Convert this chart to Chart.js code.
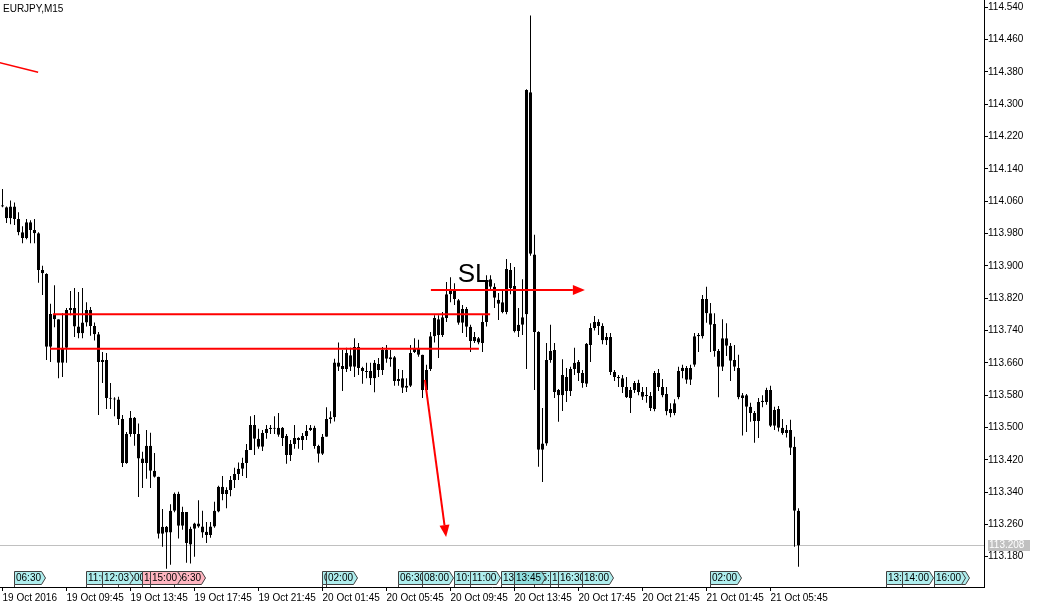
<!DOCTYPE html>
<html lang="en">
<head>
    <meta charset="UTF-8">
    <title>EURJPY,M15</title>
    <script src="https://cdn.jsdelivr.net/npm/chart.js"></script>
    <style>
        html, body { margin: 0; padding: 0; background: #fff; }
        #wrap { width: 1039px; height: 609px; }
    </style>
</head>
<body>
    <div id="wrap"><canvas id="chart" width="1039" height="609"></canvas></div>

    <script>
        // Candles (M15 bars, index 0 = 19 Oct 05:45)
        const opens = [
            114.050, 114.045, 114.018, 114.047, 114.016, 113.983, 113.969, 114.008, 113.989, 113.981,
            113.890, 113.880, 113.700, 113.781, 113.768, 113.660, 113.697, 113.791, 113.796, 113.750,
            113.733, 113.760, 113.791, 113.751, 113.731, 113.662, 113.667, 113.573, 113.571, 113.569,
            113.521, 113.412, 113.484, 113.524, 113.484, 113.423, 113.412, 113.455, 113.393, 113.378,
            113.237, 113.240, 113.240, 113.294, 113.336, 113.257, 113.291, 113.210, 113.249, 113.262,
            113.255, 113.242, 113.234, 113.255, 113.292, 113.353, 113.335, 113.345, 113.370, 113.385,
            113.398, 113.412, 113.444, 113.506, 113.472, 113.452, 113.486, 113.496, 113.497, 113.482,
            113.499, 113.479, 113.432, 113.459, 113.474, 113.469, 113.479, 113.494, 113.499, 113.454,
            113.435, 113.477, 113.521, 113.525, 113.661, 113.652, 113.645, 113.679, 113.650, 113.699,
            113.647, 113.640, 113.640, 113.622, 113.657, 113.642, 113.692, 113.674, 113.674, 113.620,
            113.622, 113.603, 113.603, 113.687, 113.697, 113.680, 113.593, 113.645, 113.726, 113.729,
            113.729, 113.771, 113.830, 113.838, 113.815, 113.759, 113.793, 113.749, 113.724, 113.721,
            113.709, 113.761, 113.867, 113.848, 113.806, 113.810, 113.786, 113.890, 113.850, 113.739,
            113.754, 113.780, 114.330, 113.928, 113.736, 113.445, 113.460, 113.667, 113.692, 113.593,
            113.580, 113.625, 113.590, 113.645, 113.662, 113.635, 113.608, 113.704, 113.746, 113.761,
            113.751, 113.716, 113.724, 113.637, 113.625, 113.622, 113.600, 113.573, 113.593, 113.610,
            113.588, 113.580, 113.578, 113.546, 113.635, 113.600, 113.583, 113.546, 113.536, 113.575,
            113.640, 113.647, 113.618, 113.655, 113.726, 113.726, 113.818, 113.783, 113.756, 113.689,
            113.650, 113.721, 113.702, 113.667, 113.647, 113.573, 113.580, 113.551, 113.536, 113.516,
            113.563, 113.563, 113.593, 113.504, 113.546, 113.499, 113.486, 113.494, 113.452, 113.294
        ];
        const highs = [
            114.090, 114.047, 114.062, 114.057, 114.033, 113.998, 114.016, 114.013, 114.016, 113.983,
            113.900, 113.882, 113.806, 113.852, 113.768, 113.783, 113.796, 113.838, 113.845, 113.835,
            113.845, 113.810, 113.798, 113.760, 113.736, 113.687, 113.684, 113.610, 113.575, 113.576,
            113.531, 113.489, 113.541, 113.526, 113.510, 113.440, 113.494, 113.487, 113.437, 113.378,
            113.298, 113.256, 113.310, 113.339, 113.341, 113.304, 113.291, 113.254, 113.264, 113.320,
            113.294, 113.266, 113.266, 113.316, 113.356, 113.380, 113.352, 113.380, 113.400, 113.413,
            113.425, 113.459, 113.528, 113.531, 113.497, 113.494, 113.506, 113.506, 113.528, 113.536,
            113.501, 113.484, 113.469, 113.506, 113.476, 113.486, 113.506, 113.506, 113.504, 113.457,
            113.484, 113.550, 113.540, 113.670, 113.710, 113.692, 113.697, 113.697, 113.721, 113.709,
            113.650, 113.660, 113.660, 113.667, 113.672, 113.699, 113.704, 113.692, 113.677, 113.645,
            113.642, 113.622, 113.704, 113.721, 113.717, 113.680, 113.655, 113.736, 113.778, 113.778,
            113.786, 113.860, 113.872, 113.857, 113.818, 113.803, 113.798, 113.754, 113.736, 113.724,
            113.778, 113.877, 113.877, 113.857, 113.833, 113.840, 113.917, 113.907, 113.897, 113.796,
            113.867, 114.337, 114.520, 113.977, 113.738, 113.548, 113.709, 113.754, 113.709, 113.595,
            113.669, 113.647, 113.650, 113.697, 113.667, 113.642, 113.709, 113.758, 113.776, 113.768,
            113.758, 113.734, 113.734, 113.642, 113.630, 113.630, 113.625, 113.600, 113.615, 113.618,
            113.600, 113.600, 113.588, 113.640, 113.645, 113.620, 113.600, 113.560, 113.570, 113.650,
            113.655, 113.652, 113.655, 113.734, 113.734, 113.828, 113.848, 113.808, 113.783, 113.694,
            113.768, 113.758, 113.709, 113.704, 113.680, 113.585, 113.583, 113.561, 113.541, 113.573,
            113.580, 113.598, 113.603, 113.551, 113.553, 113.521, 113.506, 113.519, 113.477, 113.300
        ];
        const lows = [
            114.045, 114.006, 114.003, 114.001, 113.976, 113.956, 113.966, 113.956, 113.956, 113.858,
            113.828, 113.667, 113.662, 113.748, 113.622, 113.625, 113.660, 113.778, 113.724, 113.721,
            113.721, 113.750, 113.727, 113.715, 113.531, 113.610, 113.546, 113.546, 113.528, 113.506,
            113.402, 113.410, 113.477, 113.455, 113.328, 113.350, 113.373, 113.350, 113.376, 113.225,
            113.205, 113.150, 113.160, 113.290, 113.225, 113.247, 113.165, 113.163, 113.180, 113.252,
            113.227, 113.214, 113.227, 113.252, 113.290, 113.320, 113.300, 113.330, 113.350, 113.370,
            113.380, 113.375, 113.444, 113.432, 113.447, 113.442, 113.472, 113.484, 113.484, 113.477,
            113.454, 113.410, 113.417, 113.447, 113.447, 113.444, 113.469, 113.491, 113.447, 113.413,
            113.432, 113.477, 113.510, 113.515, 113.640, 113.590, 113.637, 113.640, 113.625, 113.630,
            113.608, 113.622, 113.605, 113.587, 113.625, 113.630, 113.660, 113.650, 113.603, 113.603,
            113.585, 113.588, 113.600, 113.684, 113.675, 113.573, 113.585, 113.640, 113.710, 113.672,
            113.724, 113.761, 113.810, 113.803, 113.754, 113.734, 113.724, 113.687, 113.709, 113.706,
            113.687, 113.750, 113.840, 113.796, 113.766, 113.783, 113.780, 113.830, 113.735, 113.724,
            113.729, 113.645, 113.925, 113.593, 113.403, 113.365, 113.455, 113.660, 113.573, 113.514,
            113.541, 113.563, 113.578, 113.630, 113.615, 113.598, 113.600, 113.662, 113.740, 113.729,
            113.706, 113.704, 113.630, 113.615, 113.600, 113.585, 113.573, 113.536, 113.585, 113.580,
            113.568, 113.561, 113.541, 113.540, 113.590, 113.575, 113.530, 113.525, 113.530, 113.570,
            113.622, 113.608, 113.605, 113.650, 113.687, 113.720, 113.759, 113.687, 113.675, 113.575,
            113.640, 113.677, 113.615, 113.640, 113.570, 113.480, 113.489, 113.514, 113.462, 113.474,
            113.550, 113.556, 113.501, 113.494, 113.490, 113.482, 113.475, 113.432, 113.205, 113.155
        ];
        const closes = [
            114.047, 114.018, 114.047, 114.016, 113.983, 113.969, 114.008, 113.989, 113.981, 113.890,
            113.882, 113.700, 113.781, 113.768, 113.660, 113.697, 113.791, 113.796, 113.750, 113.733,
            113.760, 113.791, 113.751, 113.731, 113.662, 113.667, 113.573, 113.571, 113.569, 113.521,
            113.412, 113.484, 113.524, 113.484, 113.423, 113.412, 113.455, 113.393, 113.378, 113.237,
            113.254, 113.254, 113.294, 113.336, 113.257, 113.291, 113.214, 113.249, 113.262, 113.255,
            113.240, 113.234, 113.255, 113.294, 113.353, 113.335, 113.345, 113.370, 113.385, 113.398,
            113.412, 113.444, 113.506, 113.472, 113.452, 113.486, 113.496, 113.499, 113.499, 113.499,
            113.474, 113.432, 113.459, 113.474, 113.469, 113.479, 113.491, 113.499, 113.454, 113.435,
            113.477, 113.521, 113.525, 113.661, 113.650, 113.645, 113.684, 113.650, 113.699, 113.647,
            113.640, 113.637, 113.622, 113.660, 113.642, 113.692, 113.670, 113.669, 113.615, 113.615,
            113.598, 113.598, 113.684, 113.697, 113.680, 113.593, 113.642, 113.726, 113.771, 113.768,
            113.773, 113.830, 113.843, 113.818, 113.759, 113.793, 113.749, 113.714, 113.714, 113.710,
            113.761, 113.865, 113.848, 113.821, 113.816, 113.786, 113.892, 113.845, 113.738, 113.754,
            113.773, 114.335, 113.930, 113.736, 113.445, 113.460, 113.667, 113.689, 113.588, 113.580,
            113.630, 113.590, 113.645, 113.660, 113.635, 113.610, 113.707, 113.746, 113.761, 113.751,
            113.716, 113.724, 113.637, 113.625, 113.622, 113.600, 113.575, 113.593, 113.610, 113.588,
            113.576, 113.578, 113.548, 113.635, 113.600, 113.580, 113.540, 113.536, 113.560, 113.640,
            113.648, 113.618, 113.647, 113.726, 113.729, 113.818, 113.783, 113.754, 113.689, 113.650,
            113.721, 113.702, 113.665, 113.650, 113.575, 113.580, 113.551, 113.536, 113.516, 113.563,
            113.566, 113.593, 113.504, 113.543, 113.499, 113.486, 113.494, 113.450, 113.294, 113.208
        ];

        const symbol = 'EURJPY,M15';
        const bid = 113.208;

        // Axis ticks
        const timeTickIdx = [0, 16, 32, 48, 64, 80, 96, 112, 128, 144, 160, 176, 192];
        const timeTickLabels = [
            '19 Oct 2016', '19 Oct 09:45', '19 Oct 13:45', '19 Oct 17:45', '19 Oct 21:45',
            '20 Oct 01:45', '20 Oct 05:45', '20 Oct 09:45', '20 Oct 13:45', '20 Oct 17:45',
            '20 Oct 21:45', '21 Oct 01:45', '21 Oct 05:45'
        ];
        const priceTicks = [
            113.180, 113.260, 113.340, 113.420, 113.500, 113.580, 113.660, 113.740, 113.820,
            113.900, 113.980, 114.060, 114.140, 114.220, 114.300, 114.380, 114.460, 114.540
        ];

        // Drawn objects, in bar index / price
        const lines = [
            { x1: -0.7, y1: 114.403, x2: 8.9, y2: 114.379, w: 1.5 },
            { x1: 12.6, y1: 113.780, x2: 121.9, y2: 113.780, w: 2 },
            { x1: 11.9, y1: 113.695, x2: 119.1, y2: 113.695, w: 2 }
        ];
        const arrows = [
            { x1: 107.1, y1: 113.840, x2: 145.6, y2: 113.840 },
            { x1: 105.6, y1: 113.618, x2: 110.9, y2: 113.229 }
        ];
        const labelSL = { x: 113.8, y: 113.860, text: 'SL' };

        // Calendar events along the bottom (drawn in this order)
        const events = [
            { i: 3, t: '06:30', c: 'c' }, { i: 21, t: '11:00', c: 'c' }, { i: 29, t: '13:00', c: 'c' },
            { i: 25, t: '12:03', c: 'c' }, { i: 35, t: '14:30', c: 'p' }, { i: 43, t: '16:30', c: 'p' },
            { i: 37, t: '15:00', c: 'p' }, { i: 80, t: '01:45', c: 'c' }, { i: 81, t: '02:00', c: 'c' },
            { i: 99, t: '06:30', c: 'c' }, { i: 105, t: '08:00', c: 'c' }, { i: 113, t: '10:00', c: 'c' },
            { i: 117, t: '11:00', c: 'c' }, { i: 125, t: '13:00', c: 'c' }, { i: 133, t: '15:00', c: 'c' },
            { i: 128, t: '13:45', c: 'd' }, { i: 137, t: '16:00', c: 'c' }, { i: 139, t: '16:30', c: 'c' },
            { i: 145, t: '18:00', c: 'c' }, { i: 177, t: '02:00', c: 'c' }, { i: 221, t: '13:00', c: 'c' },
            { i: 225, t: '14:00', c: 'c' }, { i: 233, t: '16:00', c: 'c', dbl: true }
        ];
        const eventFill = { c: '#afeeee', p: '#ffb6c1', d: '#8fdede' };

        const FONT = 'Liberation Sans, Arial, sans-serif';
        const bull = '#3cb371';
        const bear = '#ff0000';

        // y range so that the price ticks fall where the terminal puts them
        const pxPerUnit = 404.0;
        const yMax = 114.540 + 7.3 / pxPerUnit;
        const yMin = yMax - 587 / pxPerUnit;

        function drawArrow(ctx, x1, y1, x2, y2) {
            const a = Math.atan2(y2 - y1, x2 - x1);
            const len = 12, half = 5;
            const bx = x2 - len * Math.cos(a), by = y2 - len * Math.sin(a);
            ctx.beginPath();
            ctx.moveTo(x1, y1);
            ctx.lineTo(bx, by);
            ctx.stroke();
            ctx.beginPath();
            ctx.moveTo(x2, y2);
            ctx.lineTo(bx + half * Math.sin(a), by - half * Math.cos(a));
            ctx.lineTo(bx - half * Math.sin(a), by + half * Math.cos(a));
            ctx.closePath();
            ctx.fill();
        }

        const overlay = {
            id: 'overlay',
            beforeDatasetsDraw(chart) {
                const { ctx, chartArea: a, scales: { y } } = chart;
                const yb = Math.round(y.getPixelForValue(bid)) + 0.5;
                ctx.save();
                ctx.strokeStyle = '#c0c0c0';
                ctx.lineWidth = 1;
                ctx.beginPath();
                ctx.moveTo(a.left, yb);
                ctx.lineTo(a.right, yb);
                ctx.stroke();
                ctx.restore();
            },
            afterDatasetsDraw(chart) {
                const { ctx, chartArea: a, scales: { x, y } } = chart;
                ctx.save();
                ctx.beginPath();
                ctx.rect(a.left, a.top, a.right - a.left, a.bottom - a.top);
                ctx.clip();

                // red trend / level lines
                ctx.strokeStyle = '#ff0000';
                ctx.fillStyle = '#ff0000';
                lines.forEach(l => {
                    ctx.lineWidth = l.w;
                    ctx.beginPath();
                    ctx.moveTo(x.getPixelForValue(l.x1), y.getPixelForValue(l.y1));
                    ctx.lineTo(x.getPixelForValue(l.x2), y.getPixelForValue(l.y2));
                    ctx.stroke();
                });
                ctx.lineWidth = 2;
                arrows.forEach(r => {
                    drawArrow(ctx, x.getPixelForValue(r.x1), y.getPixelForValue(r.y1),
                        x.getPixelForValue(r.x2), y.getPixelForValue(r.y2));
                });

                // SL text
                ctx.fillStyle = '#000';
                ctx.font = '26px ' + FONT;
                ctx.textBaseline = 'alphabetic';
                ctx.textAlign = 'left';
                ctx.fillText(labelSL.text, x.getPixelForValue(labelSL.x), y.getPixelForValue(labelSL.y));

                // event tags
                ctx.font = '10px ' + FONT;
                ctx.textBaseline = 'middle';
                const top = 571.5, bot = 584.5, base = a.bottom;
                events.forEach(ev => {
                    const x0 = Math.round(x.getPixelForValue(ev.i)) - 0.5;
                    const w = Math.round(ctx.measureText(ev.t).width) + 2;
                    const shape = (off) => {
                        ctx.beginPath();
                        ctx.moveTo(x0, top);
                        ctx.lineTo(x0 + w + off, top);
                        ctx.lineTo(x0 + w + off + 4, (top + bot) / 2);
                        ctx.lineTo(x0 + w + off, bot);
                        ctx.lineTo(x0, bot);
                        ctx.closePath();
                    };
                    ctx.fillStyle = eventFill[ev.c];
                    ctx.strokeStyle = '#404040';
                    ctx.lineWidth = 1;
                    if (ev.dbl) {
                        shape(4);
                        ctx.fill();
                        ctx.stroke();
                    }
                    shape(0);
                    ctx.fill();
                    ctx.stroke();
                    ctx.beginPath();
                    ctx.moveTo(x0, bot);
                    ctx.lineTo(x0, base);
                    ctx.stroke();
                    ctx.fillStyle = '#000';
                    ctx.fillText(ev.t, x0 + 1.5, (top + bot) / 2 + 0.5);
                });
                ctx.restore();
            },
            afterDraw(chart) {
                const { ctx, chartArea: a, scales: { y } } = chart;
                ctx.save();
                // symbol caption
                ctx.fillStyle = '#000';
                ctx.font = '10px ' + FONT;
                ctx.textBaseline = 'middle';
                ctx.textAlign = 'left';
                ctx.fillText(symbol, 3, 9);
                // bid price box on the right scale
                const yb = Math.round(y.getPixelForValue(bid));
                ctx.fillStyle = '#c0c0c0';
                ctx.fillRect(a.right + 4, yb - 5, 42, 11);
                ctx.fillStyle = '#fff';
                ctx.fillText(bid.toFixed(3), a.right + 5, yb + 0.5);
                ctx.restore();
            }
        };

        const wickData = lows.map((l, i) => ({ x: i, y: [l, highs[i]] }));
        const bodyData = opens.map((o, i) => ({ x: i, y: [o, closes[i]] }));
        const bodyColors = opens.map((o, i) => closes[i] >= o ? bull : bear);

        new Chart(document.getElementById('chart'), {
            type: 'bar',
            data: {
                datasets: [
                    {
                        label: 'wick',
                        data: wickData,
                        backgroundColor: '#000',
                        borderWidth: 0,
                        barThickness: 1,
                        minBarLength: 1,
                        grouped: false,
                        inflateAmount: 0
                    },
                    {
                        label: symbol,
                        data: bodyData,
                        backgroundColor: bodyColors,
                        borderColor: '#000',
                        borderWidth: 1,
                        borderSkipped: false,
                        barThickness: 3,
                        minBarLength: 1,
                        grouped: false,
                        inflateAmount: 0
                    }
                ]
            },
            options: {
                responsive: false,
                devicePixelRatio: 1,
                animation: false,
                layout: { padding: 0, autoPadding: false },
                plugins: {
                    legend: { display: false },
                    tooltip: { enabled: false },
                    title: { display: false }
                },
                scales: {
                    x: {
                        type: 'linear',
                        position: 'bottom',
                        min: -0.625,
                        max: 245.375,
                        offset: false,
                        grid: { display: true, drawOnChartArea: false, drawTicks: true, tickLength: 4, color: '#000', offset: false },
                        border: { display: true, color: '#000' },
                        afterBuildTicks: s => { s.ticks = timeTickIdx.map(v => ({ value: v })); },
                        afterFit: s => { s.height = 22; s.paddingLeft = 0; s.paddingRight = 0; },
                        ticks: {
                            autoSkip: false,
                            maxRotation: 0,
                            align: 'start',
                            padding: 1,
                            color: '#000',
                            font: { family: FONT, size: 10 },
                            callback: v => timeTickLabels[timeTickIdx.indexOf(v)]
                        }
                    },
                    y: {
                        position: 'right',
                        min: yMin,
                        max: yMax,
                        grid: { display: true, drawOnChartArea: false, drawTicks: true, tickLength: 4, color: '#000' },
                        border: { display: true, color: '#000' },
                        afterBuildTicks: s => { s.ticks = priceTicks.map(v => ({ value: v })); },
                        afterFit: s => { s.width = 55; s.paddingTop = 0; s.paddingBottom = 0; },
                        ticks: {
                            padding: 0,
                            color: '#000',
                            font: { family: FONT, size: 10 },
                            callback: v => v.toFixed(3)
                        }
                    }
                }
            },
            plugins: [overlay]
        });
    </script>
</body>
</html>
